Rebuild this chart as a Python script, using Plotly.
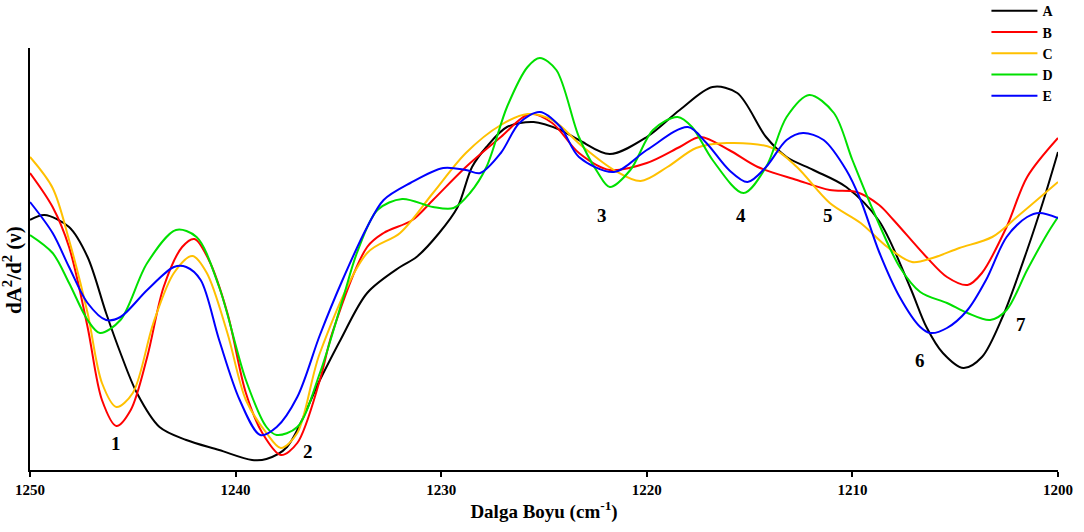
import plotly.graph_objects as go

# Wavenumber (cm-1) and second-derivative values (arbitrary units) per sample
A_x = [1250.0, 1249.3, 1248.1, 1247.2, 1246.3, 1245.6, 1244.8, 1243.7, 1242.4, 1240.8, 1239.2, 1238.5, 1237.5,
       1235.9, 1234.9, 1233.6, 1232.0, 1231.2, 1230.1, 1229.2, 1228.5, 1227.8, 1226.8, 1225.5, 1224.2, 1223.3,
       1221.8, 1220.0, 1218.4, 1216.8, 1215.6, 1214.2, 1213.2, 1211.9, 1210.3, 1208.7, 1207.2, 1206.4, 1205.6,
       1204.6, 1203.7, 1202.7, 1201.5, 1200.7, 1200.0]
A_y = [250, 255, 243, 213, 157, 117, 77, 43, 30, 20, 10, 11, 23,
       90, 130, 177, 203, 213, 237, 263, 303, 323, 343, 348, 340, 330,
       316, 333, 360, 383, 377, 333, 313, 300, 283, 249, 183, 143, 117,
       102, 113, 153, 220, 270, 318]

B_x = [1250.0, 1248.9, 1248.1, 1247.2, 1246.5, 1245.8, 1245.1, 1244.3, 1243.5, 1242.6, 1242.0, 1241.3, 1240.4,
       1239.5, 1238.7, 1237.8, 1237.0, 1235.9, 1235.3, 1233.6, 1232.8, 1231.4, 1230.4, 1228.8, 1227.1, 1225.7,
       1224.6, 1223.3, 1221.8, 1220.0, 1218.4, 1217.4, 1216.0, 1214.6, 1212.7, 1211.1, 1209.8, 1208.7, 1208.0,
       1206.4, 1205.4, 1204.4, 1203.7, 1202.5, 1201.5, 1200.0]
B_y = [297, 263, 223, 143, 70, 44, 60, 113, 183, 223, 231, 210, 157,
       77, 37, 15, 27, 90, 137, 223, 237, 250, 270, 303, 333, 356,
       347, 317, 300, 307, 323, 333, 320, 303, 290, 280, 278, 265, 250,
       213, 193, 185, 197, 243, 293, 332]

C_x = [1250.0, 1248.9, 1248.1, 1247.2, 1246.5, 1245.8, 1245.0, 1244.0, 1243.0, 1242.1, 1241.4, 1240.4, 1239.5,
       1238.5, 1237.8, 1237.0, 1235.9, 1233.6, 1232.0, 1230.4, 1228.8, 1227.1, 1225.8, 1224.6, 1223.1, 1221.6,
       1220.3, 1219.0, 1217.6, 1216.1, 1213.9, 1212.7, 1211.1, 1209.6, 1208.3, 1207.1, 1206.1, 1204.8, 1203.2,
       1202.0, 1200.0]
C_y = [313, 282, 230, 157, 87, 63, 77, 147, 197, 214, 197, 137, 70,
       37, 22, 37, 117, 217, 237, 277, 317, 345, 356, 350, 323, 300,
       289, 303, 322, 327, 322, 303, 267, 247, 223, 208, 212, 222, 233,
       253, 288]

D_x = [1250.0, 1248.9, 1248.1, 1247.2, 1246.6, 1245.6, 1244.3, 1242.9, 1241.9, 1240.8, 1239.5, 1238.5, 1238.0,
       1237.0, 1235.9, 1234.8, 1234.1, 1233.1, 1231.9, 1230.4, 1229.4, 1228.6, 1227.8, 1226.8, 1225.8, 1225.2,
       1224.4, 1223.3, 1222.4, 1221.8, 1220.8, 1219.7, 1218.5, 1217.8, 1216.8, 1215.3, 1214.2, 1213.2, 1212.1,
       1210.9, 1210.0, 1209.0, 1207.7, 1206.7, 1205.4, 1204.4, 1203.3, 1202.5, 1201.5, 1200.5, 1200.0]
D_y = [235, 217, 187, 150, 137, 150, 207, 240, 233, 183, 90, 43, 35,
       43, 97, 170, 217, 260, 271, 263, 262, 277, 303, 363, 403, 412,
       400, 333, 298, 283, 300, 340, 353, 343, 310, 277, 303, 353, 375,
       357, 310, 260, 203, 178, 167, 157, 150, 160, 200, 237, 253]

E_x = [1250.0, 1248.9, 1248.1, 1247.2, 1246.3, 1245.6, 1244.3, 1243.0, 1242.4, 1241.7, 1240.8, 1239.8, 1238.8,
       1238.0, 1237.0, 1235.9, 1234.8, 1233.6, 1232.8, 1231.5, 1229.9, 1228.8, 1228.1, 1227.1, 1226.2, 1225.2,
       1224.2, 1223.3, 1221.6, 1220.0, 1218.0, 1217.1, 1216.0, 1215.1, 1214.2, 1213.2, 1212.4, 1211.4, 1210.3,
       1209.6, 1208.7, 1207.7, 1206.7, 1206.2, 1205.4, 1204.4, 1203.5, 1202.5, 1201.5, 1200.9, 1200.0]
E_y = [268, 237, 203, 167, 150, 153, 180, 203, 203, 190, 130, 70, 35,
       43, 73, 135, 190, 243, 270, 287, 302, 300, 297, 317, 347, 358,
       343, 313, 298, 320, 343, 327, 300, 288, 303, 330, 337, 330, 300,
       270, 218, 173, 143, 137, 142, 160, 190, 233, 253, 257, 252]

series_names = ["A", "B", "C", "D", "E"]
series_x = [A_x, B_x, C_x, D_x, E_x]
series_y = [A_y, B_y, C_y, D_y, E_y]
colors = ["#000000", "#ff0000", "#ffc000", "#00e000", "#0000ff"]

# Band labels
band_labels = ["1", "2", "3", "4", "5", "6", "7"]
band_x = [1245.8, 1236.5, 1222.2, 1215.4, 1211.2, 1206.7, 1201.8]
band_y = [27, 19, 255, 255, 255, 110, 146]

tick_vals = [1250, 1240, 1230, 1220, 1210, 1200]

FONT = "Liberation Serif"

fig = go.Figure()
for name, xs, ys, c in zip(series_names, series_x, series_y, colors):
    fig.add_trace(go.Scatter(x=xs, y=ys, mode="lines", name=name,
                             line=dict(color=c, width=2, shape="spline", smoothing=0.9)))

for t, x, y in zip(band_labels, band_x, band_y):
    fig.add_annotation(x=x, y=y, text=t, showarrow=False,
                       font=dict(family=FONT, size=19, color="black", weight="bold"))

# y-axis title drawn as rotated text
fig.add_annotation(xref="paper", yref="paper", x=-0.0165, y=0.474, text="dA<sup>2</sup>/d<sup>2</sup> (ν)",
                   textangle=-90, showarrow=False, xanchor="center", yanchor="middle",
                   font=dict(family=FONT, size=21, color="black", weight="bold"))

fig.update_layout(
    width=1084, height=532, autosize=False,
    margin=dict(l=30, r=26, t=48, b=62, autoexpand=False),
    paper_bgcolor="white", plot_bgcolor="white",
    showlegend=True,
    legend=dict(xref="container", x=0.910, yref="paper", y=1.125,
                xanchor="left", yanchor="top",
                font=dict(family=FONT, size=14, color="black", weight="bold"),
                bgcolor="rgba(0,0,0,0)", tracegroupgap=0, itemwidth=46),
    font=dict(family=FONT, color="black"),
)
fig.update_xaxes(range=[1250, 1200], tickvals=tick_vals, ticks="outside", ticklen=5, tickwidth=1.5,
                 tickcolor="black", showline=True, linecolor="black", linewidth=2, showgrid=False,
                 zeroline=False, automargin=False,
                 tickfont=dict(family=FONT, size=15, color="black", weight="bold"),
                 title=dict(text="Dalga Boyu (cm<sup>-1</sup>)", standoff=8,
                            font=dict(family=FONT, size=19, color="black", weight="bold")))
fig.update_yaxes(range=[0, 422], showticklabels=False, ticks="", showline=True, linecolor="black",
                 linewidth=2, showgrid=False, zeroline=False, automargin=False)

fig.write_html("out.html", config={"displayModeBar": False},
               post_script="document.body.style.margin='0px';")
